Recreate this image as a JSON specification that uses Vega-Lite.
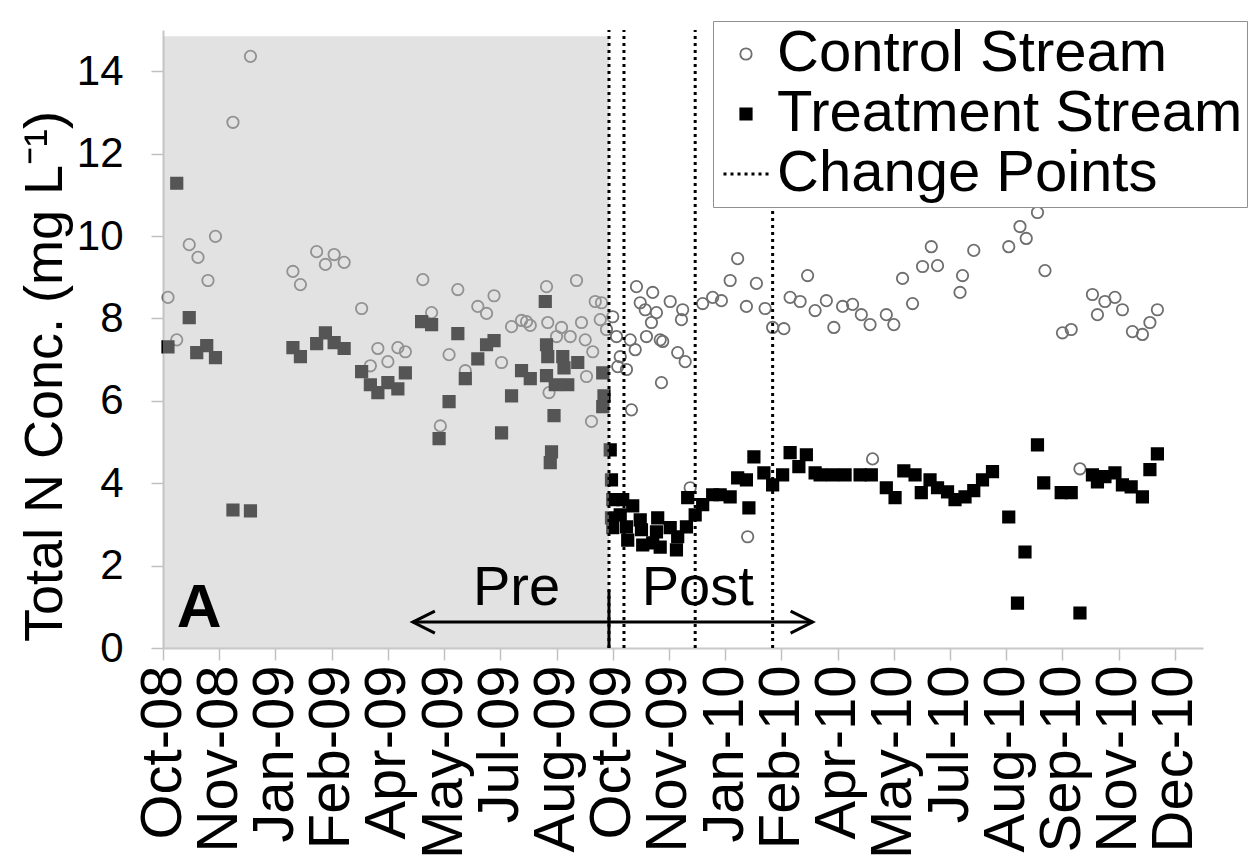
{
  "$schema": "https://vega.github.io/schema/vega-lite/v6.json",
  "width": 1040,
  "height": 618,
  "autosize": {"type": "none"},
  "padding": {"left": 163, "top": 30, "right": 54, "bottom": 217},
  "background": "white",
  "config": {
    "view": {"stroke": null},
    "font": "Liberation Sans",
    "legend": {
      "orient": "none", "legendX": 550, "legendY": -9,
      "padding": 4, "symbolOffset": 0, "labelOffset": 2,
      "labelFontSize": 58, "labelFont": "Liberation Sans", "labelColor": "black",
      "rowPadding": 2, "strokeColor": "#909090", "fillColor": "white",
      "symbolStrokeWidth": 1.8, "symbolSize": 130, "labelLimit": 900
    }
  },
  "datasets": {
    "obs": [
      {"date":"2008-10-14","conc":8.51,"stream":"Control Stream"},
      {"date":"2008-10-21","conc":7.48,"stream":"Control Stream"},
      {"date":"2008-10-31","conc":9.79,"stream":"Control Stream"},
      {"date":"2008-11-07","conc":9.48,"stream":"Control Stream"},
      {"date":"2008-11-15","conc":8.92,"stream":"Control Stream"},
      {"date":"2008-11-21","conc":9.99,"stream":"Control Stream"},
      {"date":"2008-12-05","conc":12.76,"stream":"Control Stream"},
      {"date":"2008-12-19","conc":14.36,"stream":"Control Stream"},
      {"date":"2009-01-22","conc":9.14,"stream":"Control Stream"},
      {"date":"2009-01-28","conc":8.82,"stream":"Control Stream"},
      {"date":"2009-02-10","conc":9.62,"stream":"Control Stream"},
      {"date":"2009-02-17","conc":9.31,"stream":"Control Stream"},
      {"date":"2009-02-24","conc":9.55,"stream":"Control Stream"},
      {"date":"2009-03-04","conc":9.36,"stream":"Control Stream"},
      {"date":"2009-03-18","conc":8.24,"stream":"Control Stream"},
      {"date":"2009-03-25","conc":6.85,"stream":"Control Stream"},
      {"date":"2009-03-31","conc":7.27,"stream":"Control Stream"},
      {"date":"2009-04-08","conc":6.95,"stream":"Control Stream"},
      {"date":"2009-04-16","conc":7.29,"stream":"Control Stream"},
      {"date":"2009-04-22","conc":7.19,"stream":"Control Stream"},
      {"date":"2009-05-06","conc":8.94,"stream":"Control Stream"},
      {"date":"2009-05-13","conc":8.14,"stream":"Control Stream"},
      {"date":"2009-05-20","conc":5.39,"stream":"Control Stream"},
      {"date":"2009-05-27","conc":7.12,"stream":"Control Stream"},
      {"date":"2009-06-03","conc":8.70,"stream":"Control Stream"},
      {"date":"2009-06-09","conc":6.73,"stream":"Control Stream"},
      {"date":"2009-06-19","conc":8.29,"stream":"Control Stream"},
      {"date":"2009-06-26","conc":8.12,"stream":"Control Stream"},
      {"date":"2009-07-02","conc":8.55,"stream":"Control Stream"},
      {"date":"2009-07-08","conc":6.93,"stream":"Control Stream"},
      {"date":"2009-07-16","conc":7.80,"stream":"Control Stream"},
      {"date":"2009-07-24","conc":7.95,"stream":"Control Stream"},
      {"date":"2009-07-28","conc":7.92,"stream":"Control Stream"},
      {"date":"2009-07-31","conc":7.83,"stream":"Control Stream"},
      {"date":"2009-08-13","conc":8.77,"stream":"Control Stream"},
      {"date":"2009-08-14","conc":7.90,"stream":"Control Stream"},
      {"date":"2009-08-15","conc":6.20,"stream":"Control Stream"},
      {"date":"2009-08-21","conc":7.56,"stream":"Control Stream"},
      {"date":"2009-08-25","conc":7.78,"stream":"Control Stream"},
      {"date":"2009-09-01","conc":7.56,"stream":"Control Stream"},
      {"date":"2009-09-06","conc":8.92,"stream":"Control Stream"},
      {"date":"2009-09-10","conc":7.90,"stream":"Control Stream"},
      {"date":"2009-09-13","conc":7.48,"stream":"Control Stream"},
      {"date":"2009-09-14","conc":6.59,"stream":"Control Stream"},
      {"date":"2009-09-18","conc":5.50,"stream":"Control Stream"},
      {"date":"2009-09-19","conc":7.19,"stream":"Control Stream"},
      {"date":"2009-09-21","conc":8.41,"stream":"Control Stream"},
      {"date":"2009-09-25","conc":7.97,"stream":"Control Stream"},
      {"date":"2009-09-26","conc":8.38,"stream":"Control Stream"},
      {"date":"2009-09-30","conc":7.73,"stream":"Control Stream"},
      {"date":"2009-10-05","conc":8.04,"stream":"Control Stream"},
      {"date":"2009-10-08","conc":7.56,"stream":"Control Stream"},
      {"date":"2009-10-09","conc":6.83,"stream":"Control Stream"},
      {"date":"2009-10-11","conc":7.07,"stream":"Control Stream"},
      {"date":"2009-10-16","conc":6.76,"stream":"Control Stream"},
      {"date":"2009-10-19","conc":7.48,"stream":"Control Stream"},
      {"date":"2009-10-20","conc":5.78,"stream":"Control Stream"},
      {"date":"2009-10-23","conc":7.24,"stream":"Control Stream"},
      {"date":"2009-10-24","conc":8.77,"stream":"Control Stream"},
      {"date":"2009-10-27","conc":8.38,"stream":"Control Stream"},
      {"date":"2009-10-31","conc":8.21,"stream":"Control Stream"},
      {"date":"2009-11-01","conc":7.56,"stream":"Control Stream"},
      {"date":"2009-11-05","conc":7.90,"stream":"Control Stream"},
      {"date":"2009-11-06","conc":8.63,"stream":"Control Stream"},
      {"date":"2009-11-09","conc":8.14,"stream":"Control Stream"},
      {"date":"2009-11-12","conc":7.48,"stream":"Control Stream"},
      {"date":"2009-11-13","conc":6.44,"stream":"Control Stream"},
      {"date":"2009-11-14","conc":7.44,"stream":"Control Stream"},
      {"date":"2009-11-20","conc":8.41,"stream":"Control Stream"},
      {"date":"2009-11-26","conc":7.17,"stream":"Control Stream"},
      {"date":"2009-11-29","conc":7.97,"stream":"Control Stream"},
      {"date":"2009-11-30","conc":8.21,"stream":"Control Stream"},
      {"date":"2009-12-02","conc":6.95,"stream":"Control Stream"},
      {"date":"2009-12-06","conc":3.89,"stream":"Control Stream"},
      {"date":"2009-12-16","conc":8.36,"stream":"Control Stream"},
      {"date":"2009-12-24","conc":8.51,"stream":"Control Stream"},
      {"date":"2009-12-31","conc":8.43,"stream":"Control Stream"},
      {"date":"2010-01-07","conc":8.92,"stream":"Control Stream"},
      {"date":"2010-01-13","conc":9.45,"stream":"Control Stream"},
      {"date":"2010-01-20","conc":8.29,"stream":"Control Stream"},
      {"date":"2010-01-21","conc":2.70,"stream":"Control Stream"},
      {"date":"2010-01-28","conc":8.85,"stream":"Control Stream"},
      {"date":"2010-02-04","conc":8.24,"stream":"Control Stream"},
      {"date":"2010-02-10","conc":7.78,"stream":"Control Stream"},
      {"date":"2010-02-19","conc":7.75,"stream":"Control Stream"},
      {"date":"2010-02-24","conc":8.51,"stream":"Control Stream"},
      {"date":"2010-03-04","conc":8.41,"stream":"Control Stream"},
      {"date":"2010-03-10","conc":9.04,"stream":"Control Stream"},
      {"date":"2010-03-16","conc":8.19,"stream":"Control Stream"},
      {"date":"2010-03-25","conc":8.43,"stream":"Control Stream"},
      {"date":"2010-03-31","conc":7.78,"stream":"Control Stream"},
      {"date":"2010-04-07","conc":8.29,"stream":"Control Stream"},
      {"date":"2010-04-15","conc":8.34,"stream":"Control Stream"},
      {"date":"2010-04-22","conc":8.09,"stream":"Control Stream"},
      {"date":"2010-04-29","conc":7.85,"stream":"Control Stream"},
      {"date":"2010-05-01","conc":4.59,"stream":"Control Stream"},
      {"date":"2010-05-12","conc":8.09,"stream":"Control Stream"},
      {"date":"2010-05-18","conc":7.85,"stream":"Control Stream"},
      {"date":"2010-05-25","conc":8.97,"stream":"Control Stream"},
      {"date":"2010-06-02","conc":8.36,"stream":"Control Stream"},
      {"date":"2010-06-10","conc":9.26,"stream":"Control Stream"},
      {"date":"2010-06-17","conc":9.74,"stream":"Control Stream"},
      {"date":"2010-06-22","conc":9.28,"stream":"Control Stream"},
      {"date":"2010-07-10","conc":8.63,"stream":"Control Stream"},
      {"date":"2010-07-12","conc":9.04,"stream":"Control Stream"},
      {"date":"2010-07-21","conc":9.65,"stream":"Control Stream"},
      {"date":"2010-08-18","conc":9.74,"stream":"Control Stream"},
      {"date":"2010-08-27","conc":10.23,"stream":"Control Stream"},
      {"date":"2010-09-01","conc":9.94,"stream":"Control Stream"},
      {"date":"2010-09-10","conc":10.57,"stream":"Control Stream"},
      {"date":"2010-09-16","conc":9.16,"stream":"Control Stream"},
      {"date":"2010-09-30","conc":7.65,"stream":"Control Stream"},
      {"date":"2010-10-07","conc":7.73,"stream":"Control Stream"},
      {"date":"2010-10-14","conc":4.35,"stream":"Control Stream"},
      {"date":"2010-10-24","conc":8.58,"stream":"Control Stream"},
      {"date":"2010-10-28","conc":8.09,"stream":"Control Stream"},
      {"date":"2010-11-03","conc":8.41,"stream":"Control Stream"},
      {"date":"2010-11-11","conc":8.51,"stream":"Control Stream"},
      {"date":"2010-11-17","conc":8.21,"stream":"Control Stream"},
      {"date":"2010-11-25","conc":7.68,"stream":"Control Stream"},
      {"date":"2010-12-03","conc":7.61,"stream":"Control Stream"},
      {"date":"2010-12-09","conc":7.90,"stream":"Control Stream"},
      {"date":"2010-12-15","conc":8.21,"stream":"Control Stream"},

      {"date":"2008-10-14","conc":7.31,"stream":"Treatment Stream"},
      {"date":"2008-10-21","conc":11.28,"stream":"Treatment Stream"},
      {"date":"2008-10-31","conc":8.02,"stream":"Treatment Stream"},
      {"date":"2008-11-06","conc":7.17,"stream":"Treatment Stream"},
      {"date":"2008-11-14","conc":7.34,"stream":"Treatment Stream"},
      {"date":"2008-11-21","conc":7.05,"stream":"Treatment Stream"},
      {"date":"2008-12-05","conc":3.35,"stream":"Treatment Stream"},
      {"date":"2008-12-19","conc":3.33,"stream":"Treatment Stream"},
      {"date":"2009-01-22","conc":7.29,"stream":"Treatment Stream"},
      {"date":"2009-01-28","conc":7.07,"stream":"Treatment Stream"},
      {"date":"2009-02-10","conc":7.39,"stream":"Treatment Stream"},
      {"date":"2009-02-17","conc":7.65,"stream":"Treatment Stream"},
      {"date":"2009-02-24","conc":7.41,"stream":"Treatment Stream"},
      {"date":"2009-03-04","conc":7.27,"stream":"Treatment Stream"},
      {"date":"2009-03-18","conc":6.71,"stream":"Treatment Stream"},
      {"date":"2009-03-25","conc":6.39,"stream":"Treatment Stream"},
      {"date":"2009-03-31","conc":6.20,"stream":"Treatment Stream"},
      {"date":"2009-04-08","conc":6.44,"stream":"Treatment Stream"},
      {"date":"2009-04-16","conc":6.29,"stream":"Treatment Stream"},
      {"date":"2009-04-22","conc":6.68,"stream":"Treatment Stream"},
      {"date":"2009-05-05","conc":7.92,"stream":"Treatment Stream"},
      {"date":"2009-05-13","conc":7.85,"stream":"Treatment Stream"},
      {"date":"2009-05-19","conc":5.08,"stream":"Treatment Stream"},
      {"date":"2009-05-27","conc":5.98,"stream":"Treatment Stream"},
      {"date":"2009-06-03","conc":7.63,"stream":"Treatment Stream"},
      {"date":"2009-06-09","conc":6.54,"stream":"Treatment Stream"},
      {"date":"2009-06-19","conc":7.02,"stream":"Treatment Stream"},
      {"date":"2009-06-26","conc":7.36,"stream":"Treatment Stream"},
      {"date":"2009-07-02","conc":7.46,"stream":"Treatment Stream"},
      {"date":"2009-07-08","conc":5.22,"stream":"Treatment Stream"},
      {"date":"2009-07-16","conc":6.12,"stream":"Treatment Stream"},
      {"date":"2009-07-24","conc":6.73,"stream":"Treatment Stream"},
      {"date":"2009-07-31","conc":6.54,"stream":"Treatment Stream"},
      {"date":"2009-08-12","conc":8.41,"stream":"Treatment Stream"},
      {"date":"2009-08-13","conc":7.36,"stream":"Treatment Stream"},
      {"date":"2009-08-13","conc":6.61,"stream":"Treatment Stream"},
      {"date":"2009-08-14","conc":7.07,"stream":"Treatment Stream"},
      {"date":"2009-08-16","conc":4.50,"stream":"Treatment Stream"},
      {"date":"2009-08-17","conc":4.76,"stream":"Treatment Stream"},
      {"date":"2009-08-19","conc":5.64,"stream":"Treatment Stream"},
      {"date":"2009-08-20","conc":6.39,"stream":"Treatment Stream"},
      {"date":"2009-08-26","conc":7.07,"stream":"Treatment Stream"},
      {"date":"2009-08-27","conc":6.80,"stream":"Treatment Stream"},
      {"date":"2009-08-30","conc":6.39,"stream":"Treatment Stream"},
      {"date":"2009-09-07","conc":6.93,"stream":"Treatment Stream"},
      {"date":"2009-09-27","conc":6.68,"stream":"Treatment Stream"},
      {"date":"2009-09-27","conc":5.86,"stream":"Treatment Stream"},
      {"date":"2009-09-28","conc":6.12,"stream":"Treatment Stream"},
      {"date":"2009-10-03","conc":4.81,"stream":"Treatment Stream"},
      {"date":"2009-10-04","conc":4.08,"stream":"Treatment Stream"},
      {"date":"2009-10-04","conc":3.16,"stream":"Treatment Stream"},
      {"date":"2009-10-05","conc":3.60,"stream":"Treatment Stream"},
      {"date":"2009-10-05","conc":2.92,"stream":"Treatment Stream"},
      {"date":"2009-10-11","conc":3.23,"stream":"Treatment Stream"},
      {"date":"2009-10-13","conc":3.60,"stream":"Treatment Stream"},
      {"date":"2009-10-16","conc":2.94,"stream":"Treatment Stream"},
      {"date":"2009-10-17","conc":2.62,"stream":"Treatment Stream"},
      {"date":"2009-10-21","conc":3.45,"stream":"Treatment Stream"},
      {"date":"2009-10-27","conc":3.11,"stream":"Treatment Stream"},
      {"date":"2009-10-28","conc":2.87,"stream":"Treatment Stream"},
      {"date":"2009-10-29","conc":2.50,"stream":"Treatment Stream"},
      {"date":"2009-11-06","conc":2.55,"stream":"Treatment Stream"},
      {"date":"2009-11-09","conc":2.82,"stream":"Treatment Stream"},
      {"date":"2009-11-10","conc":3.16,"stream":"Treatment Stream"},
      {"date":"2009-11-12","conc":2.45,"stream":"Treatment Stream"},
      {"date":"2009-11-20","conc":2.92,"stream":"Treatment Stream"},
      {"date":"2009-11-25","conc":2.38,"stream":"Treatment Stream"},
      {"date":"2009-11-26","conc":2.70,"stream":"Treatment Stream"},
      {"date":"2009-12-03","conc":2.94,"stream":"Treatment Stream"},
      {"date":"2009-12-04","conc":3.65,"stream":"Treatment Stream"},
      {"date":"2009-12-10","conc":3.23,"stream":"Treatment Stream"},
      {"date":"2009-12-16","conc":3.48,"stream":"Treatment Stream"},
      {"date":"2009-12-24","conc":3.72,"stream":"Treatment Stream"},
      {"date":"2009-12-30","conc":3.72,"stream":"Treatment Stream"},
      {"date":"2010-01-07","conc":3.67,"stream":"Treatment Stream"},
      {"date":"2010-01-13","conc":4.13,"stream":"Treatment Stream"},
      {"date":"2010-01-20","conc":4.08,"stream":"Treatment Stream"},
      {"date":"2010-01-22","conc":3.40,"stream":"Treatment Stream"},
      {"date":"2010-01-26","conc":4.64,"stream":"Treatment Stream"},
      {"date":"2010-02-03","conc":4.25,"stream":"Treatment Stream"},
      {"date":"2010-02-10","conc":3.96,"stream":"Treatment Stream"},
      {"date":"2010-02-18","conc":4.20,"stream":"Treatment Stream"},
      {"date":"2010-02-24","conc":4.74,"stream":"Treatment Stream"},
      {"date":"2010-03-03","conc":4.40,"stream":"Treatment Stream"},
      {"date":"2010-03-09","conc":4.69,"stream":"Treatment Stream"},
      {"date":"2010-03-16","conc":4.25,"stream":"Treatment Stream"},
      {"date":"2010-03-20","conc":4.20,"stream":"Treatment Stream"},
      {"date":"2010-03-30","conc":4.20,"stream":"Treatment Stream"},
      {"date":"2010-04-09","conc":4.20,"stream":"Treatment Stream"},
      {"date":"2010-04-21","conc":4.20,"stream":"Treatment Stream"},
      {"date":"2010-04-30","conc":4.20,"stream":"Treatment Stream"},
      {"date":"2010-05-12","conc":3.89,"stream":"Treatment Stream"},
      {"date":"2010-05-19","conc":3.65,"stream":"Treatment Stream"},
      {"date":"2010-05-26","conc":4.30,"stream":"Treatment Stream"},
      {"date":"2010-06-04","conc":4.20,"stream":"Treatment Stream"},
      {"date":"2010-06-09","conc":3.77,"stream":"Treatment Stream"},
      {"date":"2010-06-16","conc":4.08,"stream":"Treatment Stream"},
      {"date":"2010-06-22","conc":3.89,"stream":"Treatment Stream"},
      {"date":"2010-06-30","conc":3.79,"stream":"Treatment Stream"},
      {"date":"2010-07-06","conc":3.60,"stream":"Treatment Stream"},
      {"date":"2010-07-14","conc":3.67,"stream":"Treatment Stream"},
      {"date":"2010-07-21","conc":3.82,"stream":"Treatment Stream"},
      {"date":"2010-07-28","conc":4.08,"stream":"Treatment Stream"},
      {"date":"2010-08-05","conc":4.28,"stream":"Treatment Stream"},
      {"date":"2010-08-18","conc":3.18,"stream":"Treatment Stream"},
      {"date":"2010-08-25","conc":1.09,"stream":"Treatment Stream"},
      {"date":"2010-08-31","conc":2.33,"stream":"Treatment Stream"},
      {"date":"2010-09-10","conc":4.93,"stream":"Treatment Stream"},
      {"date":"2010-09-15","conc":4.01,"stream":"Treatment Stream"},
      {"date":"2010-09-29","conc":3.77,"stream":"Treatment Stream"},
      {"date":"2010-10-07","conc":3.77,"stream":"Treatment Stream"},
      {"date":"2010-10-14","conc":0.85,"stream":"Treatment Stream"},
      {"date":"2010-10-24","conc":4.20,"stream":"Treatment Stream"},
      {"date":"2010-10-28","conc":4.03,"stream":"Treatment Stream"},
      {"date":"2010-11-03","conc":4.16,"stream":"Treatment Stream"},
      {"date":"2010-11-11","conc":4.25,"stream":"Treatment Stream"},
      {"date":"2010-11-17","conc":3.96,"stream":"Treatment Stream"},
      {"date":"2010-11-24","conc":3.91,"stream":"Treatment Stream"},
      {"date":"2010-12-03","conc":3.67,"stream":"Treatment Stream"},
      {"date":"2010-12-09","conc":4.33,"stream":"Treatment Stream"},
      {"date":"2010-12-15","conc":4.71,"stream":"Treatment Stream"}
    ],
    "changes": [
      {"date":"2009-10-02"},
      {"date":"2009-10-14"},
      {"date":"2009-12-10"},
      {"date":"2010-02-10"}
    ]
  },
  "layer": [
    {
      "data": {"name": "obs"},
      "mark": {"type": "point", "size": 130, "strokeWidth": 1.8, "opacity": 1},
      "encoding": {
        "x": {
          "field": "date", "type": "temporal", "title": null,
          "scale": {"type": "utc", "nice": false, "domain": [
            {"year": 2008, "month": 10, "date": 10, "utc": true},
            {"year": 2011, "month": 1, "date": 20, "hours": 12, "utc": true}
          ]},
          "axis": {
            "title": null, "format": "%b-%y", "grid": false,
            "values": [
              {"year": 2008, "month": 10, "date": 10, "utc": true},
              {"year": 2008, "month": 11, "date": 24, "utc": true},
              {"year": 2009, "month": 1, "date": 8, "utc": true},
              {"year": 2009, "month": 2, "date": 22, "utc": true},
              {"year": 2009, "month": 4, "date": 8, "utc": true},
              {"year": 2009, "month": 5, "date": 23, "utc": true},
              {"year": 2009, "month": 7, "date": 7, "utc": true},
              {"year": 2009, "month": 8, "date": 21, "utc": true},
              {"year": 2009, "month": 10, "date": 5, "utc": true},
              {"year": 2009, "month": 11, "date": 19, "utc": true},
              {"year": 2010, "month": 1, "date": 3, "utc": true},
              {"year": 2010, "month": 2, "date": 17, "utc": true},
              {"year": 2010, "month": 4, "date": 3, "utc": true},
              {"year": 2010, "month": 5, "date": 18, "utc": true},
              {"year": 2010, "month": 7, "date": 2, "utc": true},
              {"year": 2010, "month": 8, "date": 16, "utc": true},
              {"year": 2010, "month": 9, "date": 30, "utc": true},
              {"year": 2010, "month": 11, "date": 14, "utc": true},
              {"year": 2010, "month": 12, "date": 29, "utc": true}
            ],
            "labelAngle": 270, "labelAlign": "right", "labelBaseline": "middle",
            "labelFontSize": 58, "labelFont": "Liberation Sans", "labelColor": "black",
            "labelPadding": 5, "labelOverlap": false, "labelFlush": false, "labelLimit": 500,
            "tickSize": 12, "tickColor": "#c0c0c0", "tickWidth": 1.5,
            "domainColor": "#c8c8c8", "domainWidth": 2
          }
        },
        "y": {
          "field": "conc", "type": "quantitative", "title": "Total N Conc. (mg L⁻¹)",
          "scale": {"domain": [0, 15], "nice": false},
          "axis": {
            "title": "Total N Conc. (mg L⁻¹)", "grid": false,
            "values": [0, 2, 4, 6, 8, 10, 12, 14],
            "labelFontSize": 42, "labelFont": "Liberation Sans", "labelColor": "black",
            "labelPadding": 28, "tickSize": 12, "tickColor": "#c0c0c0", "tickWidth": 1.5,
            "domainColor": "#c8c8c8", "domainWidth": 2,
            "titleFontSize": 54, "titleFont": "Liberation Sans", "titleFontWeight": "normal",
            "titleColor": "black", "titleX": -118, "titleY": 346,
            "titleAlign": "center", "titleBaseline": "middle", "titleAngle": 270
          }
        },
        "shape": {
          "field": "stream", "type": "nominal",
          "scale": {
            "domain": ["Control Stream", "Treatment Stream", "Change Points"],
            "range": ["circle", "square", "M-3.95,-0.26h0.53v0.53h-0.53z M-2.72,-0.26h0.53v0.53h-0.53z M-1.49,-0.26h0.53v0.53h-0.53z M-0.26,-0.26h0.53v0.53h-0.53z M0.96,-0.26h0.53v0.53h-0.53z M2.19,-0.26h0.53v0.53h-0.53z M3.42,-0.26h0.53v0.53h-0.53z"]
          },
          "legend": {"title": null}
        },
        "fill": {
          "field": "stream", "type": "nominal",
          "scale": {
            "domain": ["Control Stream", "Treatment Stream", "Change Points"],
            "range": ["transparent", "black", "black"]
          },
          "legend": {"title": null}
        },
        "stroke": {
          "field": "stream", "type": "nominal",
          "scale": {
            "domain": ["Control Stream", "Treatment Stream", "Change Points"],
            "range": ["#6e6e6e", "black", "transparent"]
          },
          "legend": {"title": null}
        }
      }
    },
    {
      "data": {"values": [{"date": "2008-10-10", "date2": "2009-10-02", "conc": 0, "conc2": 14.85}]},
      "mark": {"type": "rect", "color": "#bebebe", "opacity": 0.447},
      "encoding": {
        "x": {"field": "date", "type": "temporal"},
        "x2": {"field": "date2"},
        "y": {"field": "conc", "type": "quantitative"},
        "y2": {"field": "conc2"}
      }
    },
    {
      "data": {"name": "changes"},
      "mark": {"type": "rule", "color": "black", "strokeWidth": 3, "strokeDash": [3, 4]},
      "encoding": {
        "x": {"field": "date", "type": "temporal"},
        "y": {"datum": 0, "type": "quantitative"},
        "y2": {"datum": 15}
      }
    },
    {
      "data": {"values": [{"date": "2009-04-28", "date2": "2010-03-14", "conc": 0.63}]},
      "mark": {"type": "rule", "color": "black", "strokeWidth": 3},
      "encoding": {
        "x": {"field": "date", "type": "temporal"},
        "x2": {"field": "date2"},
        "y": {"field": "conc", "type": "quantitative"}
      }
    },
    {
      "data": {"values": [{"date": "2009-04-28", "conc": 0.63}]},
      "mark": {"type": "point", "shape": "M2,-1L0,0L2,1", "size": 484, "filled": false, "color": "black", "strokeWidth": 3, "opacity": 1},
      "encoding": {
        "x": {"field": "date", "type": "temporal"},
        "y": {"field": "conc", "type": "quantitative"}
      }
    },
    {
      "data": {"values": [{"date": "2010-03-14", "conc": 0.63}]},
      "mark": {"type": "point", "shape": "M-2,-1L0,0L-2,1", "size": 484, "filled": false, "color": "black", "strokeWidth": 3, "opacity": 1},
      "encoding": {
        "x": {"field": "date", "type": "temporal"},
        "y": {"field": "conc", "type": "quantitative"}
      }
    },
    {
      "data": {"values": [{"date": "2009-10-02", "conc": 0, "conc2": 1.41}]},
      "mark": {"type": "rule", "color": "black", "strokeWidth": 3},
      "encoding": {
        "x": {"field": "date", "type": "temporal"},
        "y": {"field": "conc", "type": "quantitative"},
        "y2": {"field": "conc2"}
      }
    },
    {
      "data": {"values": [
        {"date": "2009-07-20", "conc": 1.04, "label": "Pre"},
        {"date": "2009-12-12", "conc": 1.04, "label": "Post"}
      ]},
      "mark": {"type": "text", "font": "Liberation Sans", "fontSize": 56, "color": "black", "align": "center", "baseline": "alphabetic"},
      "encoding": {
        "x": {"field": "date", "type": "temporal"},
        "y": {"field": "conc", "type": "quantitative"},
        "text": {"field": "label"}
      }
    },
    {
      "data": {"values": [{"date": "2008-11-08", "conc": 0.51, "label": "A"}]},
      "mark": {"type": "text", "font": "Liberation Sans", "fontSize": 62, "fontWeight": "bold", "color": "black", "align": "center", "baseline": "alphabetic"},
      "encoding": {
        "x": {"field": "date", "type": "temporal"},
        "y": {"field": "conc", "type": "quantitative"},
        "text": {"field": "label"}
      }
    }
  ]
}
